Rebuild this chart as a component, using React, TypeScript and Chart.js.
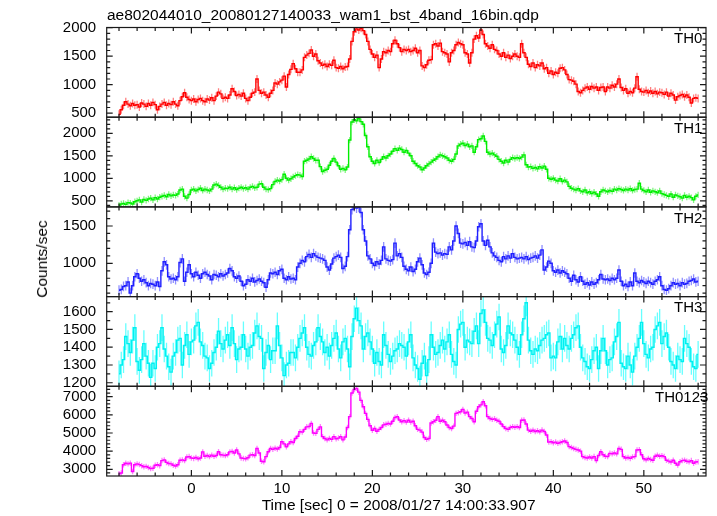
import React, { useEffect, useRef } from 'react';
import { Chart, registerables } from 'chart.js';

Chart.register(...registerables);

const FONT = "'Liberation Sans', Arial, Helvetica, sans-serif";
const TITLE = 'ae802044010_20080127140033_wam1_bst_4band_16bin.qdp';
const X_TITLE = 'Time [sec] 0 = 2008/01/27 14:00:33.907';
const Y_TITLE = 'Counts/sec';

// time grid of the light curve (bin centres)
const T_START = -8;
const T_BIN = 0.25;
const X_RANGE = [-9.36, 56.87];
const X_MAJOR = [0, 10, 20, 30, 40, 50];
const X_MINOR_STEP = 2;

const PANEL_NAMES = ['TH0', 'TH1', 'TH2', 'TH3', 'TH0123'];
const PANEL_COLORS = ['#ff0000', '#00ee00', '#1f1fff', '#00f0f0', '#ff00ff'];
const PANEL_BAR_COLORS = [
  'rgba(255,0,0,0.5)',
  'rgba(0,238,0,0.5)',
  'rgba(31,31,255,0.5)',
  'rgba(0,255,255,0.6)',
  'rgba(255,0,255,0.5)',
];
const PANEL_MIN = [430, 365, 554, 1180, 2631];
const PANEL_MAX = [2004, 2358, 1756, 1685, 7573];
const PANEL_MAJOR = [
  [500, 1000, 1500, 2000],
  [500, 1000, 1500, 2000],
  [1000, 1500],
  [1200, 1300, 1400, 1500, 1600],
  [3000, 4000, 5000, 6000, 7000],
];
const PANEL_MINOR = [100, 100, 100, 50, 200];
const PANEL_ERR = [70, 70, 65, 75, 150];
const PANEL_LABEL_LEFT = [674, 674, 674, 674, 655];

const TH0 = [
  480, 560, 640, 700, 660, 630, 670, 640,
  650, 610, 680, 660, 620, 670, 640, 690,
  650, 560, 620, 660, 690, 640, 670, 650,
  700, 660, 630, 720, 790, 860, 780, 740,
  720, 750, 700, 740, 760, 720, 700, 750,
  730, 770, 720, 800, 870, 840, 760, 780,
  760, 820, 930, 880, 810, 830, 800, 850,
  760, 720, 780, 850, 870, 1100, 900, 850,
  870, 820, 780, 850, 900, 1030, 1010, 1050,
  1080, 1150, 960, 1180, 1270, 1370, 1280, 1220,
  1220, 1260, 1480, 1520, 1550, 1610, 1500, 1540,
  1420, 1380, 1340, 1360, 1320, 1360, 1340, 1430,
  1300, 1290, 1320, 1280, 1310, 1320, 1450, 1760,
  1930, 1980, 1960, 1990, 1950, 1880, 1760, 1620,
  1540, 1480, 1520, 1300, 1450, 1580, 1560, 1600,
  1580, 1720, 1780, 1720, 1650, 1580, 1620, 1600,
  1620, 1580, 1600, 1640, 1560, 1600, 1330, 1300,
  1350, 1430, 1440, 1700, 1720, 1680, 1730, 1580,
  1560, 1540, 1400, 1560, 1600, 1700, 1740, 1720,
  1700, 1560, 1540, 1380, 1560, 1800, 1860, 1820,
  1960, 1880, 1720, 1680, 1640, 1700, 1620, 1600,
  1540, 1500, 1560, 1480, 1520, 1460, 1500, 1540,
  1500, 1480, 1720, 1560, 1480, 1360, 1320, 1380,
  1300, 1350, 1330, 1380, 1280, 1300, 1200, 1240,
  1180, 1220, 1200, 1290, 1300, 1260, 1180, 1090,
  1080, 1060, 1010, 880, 860, 900, 940, 960,
  920, 970, 940, 960, 900, 950, 960, 880,
  960, 940, 990, 960, 1010, 1100, 950, 900,
  930, 850, 880, 860, 940, 1140, 920, 880,
  870, 900, 860, 890, 850, 880, 840, 870,
  860, 830, 870, 800, 850, 820, 730, 790,
  810, 830, 790, 820, 780, 680, 760, 770,
  760,
];

const TH1 = [
  400, 430, 440, 420, 460, 450, 430, 480,
  500, 520, 470, 530, 510, 540, 560, 520,
  570, 540, 580, 600, 620, 590, 640, 610,
  630, 620, 650, 740, 760, 600, 560, 640,
  740, 760, 720, 750, 780, 730, 760, 740,
  720, 760, 850, 870, 840, 800, 760, 780,
  770, 800, 760, 790, 750, 780, 800, 770,
  790, 760, 800, 820, 790, 800, 870, 880,
  800, 760, 750, 770, 860, 930, 960, 940,
  970, 1090, 1000, 960, 990, 1030, 1060, 1080,
  1070, 1040, 1380, 1400, 1430, 1480, 1440, 1400,
  1400, 1260, 1150, 1180, 1200, 1290, 1380, 1440,
  1360, 1280, 1200, 1220, 1190, 1250, 1850, 2250,
  2300, 2280, 2330, 2260, 2200, 1950, 1700, 1480,
  1380, 1330, 1400, 1350, 1420, 1480, 1450, 1500,
  1540, 1600, 1660, 1620, 1670, 1640, 1580, 1620,
  1560, 1500, 1380, 1330, 1280, 1250, 1190, 1230,
  1280, 1320, 1360, 1400, 1430, 1480, 1520, 1500,
  1480, 1450, 1400, 1380, 1420, 1540, 1720, 1760,
  1780, 1730, 1760, 1700, 1720, 1580, 1700, 1860,
  1880, 1940, 1820, 1580, 1540, 1560, 1520, 1490,
  1420, 1380, 1340, 1400, 1360, 1420, 1460, 1440,
  1460, 1440, 1470, 1520, 1300, 1250, 1260, 1220,
  1240, 1210, 1260, 1230, 1270, 1200, 1000, 980,
  1000, 960, 940, 990, 930, 960, 920, 820,
  780, 760, 740, 770, 720, 700, 740, 680,
  700, 660, 690, 650, 600, 700, 740, 720,
  700, 730, 710, 760, 740, 770, 750, 730,
  760, 740, 770, 730, 750, 760, 890, 760,
  730, 700, 740, 690, 720, 700, 680, 720,
  660, 640, 620, 600, 650, 580, 630, 610,
  590, 560, 620, 580, 600, 570, 520, 600,
  630,
];

const TH2 = [
  640, 650, 690, 700, 750, 600, 700, 820,
  860, 800, 760, 780, 740, 700, 730, 720,
  700, 750, 690, 900, 1020, 980, 820, 790,
  800, 780, 820, 1010, 1060, 760, 880, 980,
  860, 820, 880, 840, 800, 860, 880, 850,
  830, 780, 850, 840, 820, 860, 830, 850,
  870, 930, 900, 820, 800, 830, 760, 700,
  720, 780, 760, 800, 750, 770, 790, 760,
  740, 680, 780, 870, 860, 880, 850, 900,
  920, 800, 780, 820, 790, 800, 780, 950,
  1000, 1040, 1020, 1090, 1120, 1080, 1130, 1100,
  1080, 1070, 1060, 1040, 950, 910, 990, 1070,
  1090, 1110, 1080, 930, 960, 1090, 1450, 1720,
  1760, 1740, 1750, 1680, 1450, 1300, 1100, 1060,
  1000, 970, 1020, 990, 1040, 1220, 1060, 1040,
  1030, 1050, 1270, 1100, 1130, 1080, 960, 920,
  900, 950, 890, 920, 1020, 1070, 980, 870,
  850, 880, 1000, 1270, 1150, 1130, 1140, 1110,
  1130, 1120, 1220, 1180, 1300, 1500, 1400, 1270,
  1260, 1280, 1240, 1290, 1220, 1210, 1300, 1490,
  1530, 1300, 1240, 1310, 1220, 1140, 1100, 1080,
  1040, 1020, 1090, 1060, 1100, 1070, 1130, 1080,
  1060, 1070, 1080, 1060, 1090, 1050, 1070, 1080,
  1100, 1070, 1110, 1180, 910, 950, 1030, 1000,
  900, 880, 910, 870, 900, 880, 860, 800,
  760, 840, 780, 750, 820, 760, 720, 740,
  710, 750, 720, 740, 780, 850, 790, 780,
  790, 770, 800, 780, 800, 910, 760, 700,
  720, 690, 750, 700, 870, 760, 740, 770,
  750, 730, 760, 740, 720, 760, 780, 820,
  700, 650, 640, 660, 700, 740, 720, 730,
  700, 740, 720, 730, 760, 770, 790, 750,
  760,
];

const TH3 = [
  1250, 1300, 1330, 1460, 1420, 1370, 1440, 1510,
  1320, 1270, 1330, 1420, 1350, 1310, 1230, 1310,
  1280, 1400, 1420, 1510, 1390, 1350, 1290, 1260,
  1350, 1370, 1440, 1450, 1300, 1410, 1470, 1360,
  1430, 1440, 1520, 1540, 1430, 1410, 1350, 1340,
  1280, 1310, 1370, 1400, 1490, 1420, 1390, 1440,
  1470, 1410, 1510, 1420, 1330, 1390, 1400, 1470,
  1390, 1350, 1400, 1410, 1480, 1520, 1460, 1450,
  1280, 1370, 1410, 1330, 1380, 1380, 1520, 1410,
  1340, 1240, 1300, 1310, 1370, 1370, 1340, 1400,
  1450, 1480, 1510, 1400, 1360, 1350, 1410, 1430,
  1510, 1460, 1430, 1370, 1400, 1350, 1410, 1450,
  1480, 1390, 1340, 1430, 1450, 1390, 1290, 1460,
  1560, 1620, 1550, 1520, 1390, 1460, 1480, 1430,
  1390, 1310, 1370, 1320, 1300, 1470, 1410, 1360,
  1320, 1350, 1380, 1390, 1420, 1410, 1400, 1350,
  1430, 1470, 1340, 1300, 1280, 1220, 1310, 1350,
  1240, 1330, 1470, 1400, 1360, 1370, 1410, 1440,
  1390, 1430, 1470, 1360, 1320, 1300, 1500, 1530,
  1540, 1400, 1440, 1430, 1420, 1490, 1520, 1420,
  1590, 1610, 1540, 1450, 1440, 1410, 1470, 1530,
  1570, 1390, 1370, 1410, 1520, 1480, 1470, 1440,
  1400, 1360, 1470, 1560, 1650, 1440, 1380, 1360,
  1390, 1380, 1410, 1440, 1450, 1470, 1480, 1340,
  1350, 1340, 1430, 1460, 1390, 1450, 1410, 1390,
  1450, 1470, 1510, 1520, 1400, 1340, 1320, 1290,
  1280, 1330, 1380, 1400, 1280, 1380, 1450, 1380,
  1300, 1330, 1340, 1430, 1460, 1540, 1310, 1290,
  1280, 1350, 1300, 1260, 1350, 1400, 1450, 1540,
  1420, 1360, 1340, 1390, 1400, 1500, 1520, 1540,
  1420, 1460, 1480, 1400, 1320, 1300, 1280, 1350,
  1330, 1320, 1450, 1420, 1400, 1320, 1290, 1280,
  1360,
];

const TH0123 = [
  2750, 2800, 3250, 3330, 3300, 3340, 2880, 3250,
  3300, 3260, 3200, 3140, 3160, 3100, 3040, 3060,
  3220, 3250, 3200, 3480, 3520, 3380, 3320, 3300,
  3220, 3180, 3250, 3500, 3520, 3480, 3680, 3700,
  3620, 3600, 3650, 3580, 3620, 3960, 3720, 3760,
  3700, 3780, 3720, 3760, 3970, 3800, 3780, 3760,
  3800, 3960, 3980, 3900, 4060, 3850, 3620, 3600,
  3580, 3640, 3780, 3800, 3760, 4150, 3900, 3440,
  3420, 3700, 3970, 4150, 4100, 4160, 4120, 4200,
  4520, 4400, 4240, 4400, 4520, 4480, 4700, 4820,
  5070, 5050, 5200, 5340, 5360, 5530, 5000, 4980,
  5200, 5340, 4800, 4700, 4620, 4700, 4650, 4800,
  4680, 4720, 4800, 4620, 4780, 5300, 5900, 7200,
  7400, 7460, 7250, 6800, 6450, 6080, 5750, 5400,
  5150, 5250, 5100, 5200, 5300, 5450, 5480, 5530,
  5500, 5650, 5850, 5900, 5720, 5620, 5680, 5600,
  5700, 5600, 5650, 5400, 5200, 5160, 5050, 4750,
  4650, 4700, 5550, 5620, 5700, 5900, 5650, 5700,
  5620, 5440, 5300, 5250, 5380, 6080, 6120, 6170,
  6300, 6100, 6150, 5900, 5800, 5620, 6200, 6450,
  6550, 6720, 6500, 5900, 5800, 5750, 5780, 5700,
  5650, 5500, 5350, 5250, 5200, 5300, 5350, 5320,
  5350, 5300, 5700, 5720, 5500, 5160, 5100, 5150,
  5080, 5120, 5070, 5160, 5080, 4890, 4500, 4520,
  4460, 4500, 4430, 4480, 4520, 4560, 4480, 4250,
  4200, 4150, 4100, 4060, 4000, 3700, 3650, 3620,
  3680, 3620, 3700, 3480, 3760, 3970, 3800, 3720,
  3700, 3880, 3860, 3900, 3850, 4150, 4100, 3700,
  3620, 3650, 3600, 3680, 3700, 4060, 4080, 3800,
  3580, 3520, 3600, 3540, 3500, 3720, 3780, 3720,
  3750, 3700, 3500, 3450, 3400, 3500, 3330, 3230,
  3420, 3480, 3500, 3440, 3420, 3480, 3330, 3400,
  3420,
];

const SERIES = [TH0, TH1, TH2, TH3, TH0123];

const FRAME_COLOR = '#1a1a1a';
const MAJOR_LEN = 6;
const MINOR_LEN = 3.5;

const qdpPlugin = {
  id: 'qdpPanels',
  beforeDatasetDraw(chart: any, args: any) {
    const meta = args.meta;
    const ys = meta.yScale;
    const area = chart.chartArea;
    const ctx = chart.ctx;
    ctx.save();
    ctx.beginPath();
    ctx.rect(area.left, ys.top, area.right - area.left, ys.bottom - ys.top);
    ctx.clip();
    const ds = chart.data.datasets[args.index];
    ctx.strokeStyle = ds.barColor;
    ctx.lineWidth = 1.3;
    ctx.beginPath();
    meta.data.forEach((pt: any, j: number) => {
      const v = ds.data[j].y;
      ctx.moveTo(pt.x, ys.getPixelForValue(v + ds.err));
      ctx.lineTo(pt.x, ys.getPixelForValue(v - ds.err));
    });
    ctx.stroke();
  },
  afterDatasetDraw(chart: any) {
    chart.ctx.restore();
  },
  afterDatasetsDraw(chart: any) {
    const ctx = chart.ctx;
    const a = chart.chartArea;
    const xs = chart.scales.x;
    ctx.save();
    ctx.strokeStyle = FRAME_COLOR;
    ctx.lineWidth = 1.2;
    PANEL_NAMES.forEach((_, i) => {
      const ys = chart.scales['y' + i];
      const top = ys.top;
      const bot = ys.bottom;
      ctx.strokeRect(a.left, top, a.right - a.left, bot - top);
      ctx.beginPath();
      const k0 = Math.ceil(X_RANGE[0] / X_MINOR_STEP);
      const k1 = Math.floor(X_RANGE[1] / X_MINOR_STEP);
      for (let k = k0; k <= k1; k++) {
        const v = k * X_MINOR_STEP;
        const len = X_MAJOR.includes(v) ? MAJOR_LEN : MINOR_LEN;
        const px = xs.getPixelForValue(v);
        ctx.moveTo(px, top);
        ctx.lineTo(px, top + len);
        ctx.moveTo(px, bot);
        ctx.lineTo(px, bot - len);
      }
      const step = PANEL_MINOR[i];
      const m0 = Math.ceil(PANEL_MIN[i] / step);
      const m1 = Math.floor(PANEL_MAX[i] / step);
      for (let m = m0; m <= m1; m++) {
        const v = m * step;
        const len = PANEL_MAJOR[i].includes(v) ? MAJOR_LEN : MINOR_LEN;
        const py = ys.getPixelForValue(v);
        ctx.moveTo(a.left, py);
        ctx.lineTo(a.left + len, py);
        ctx.moveTo(a.right, py);
        ctx.lineTo(a.right - len, py);
      }
      ctx.stroke();
    });
    ctx.restore();
  },
};

export default function App() {
  const ref = useRef<HTMLCanvasElement>(null);

  useEffect(() => {
    const canvas = ref.current;
    if (!canvas) return;

    const datasets = SERIES.map((vals, i) => ({
      label: PANEL_NAMES[i],
      data: vals.map((v, j) => ({ x: T_START + j * T_BIN, y: v })),
      xAxisID: 'x',
      yAxisID: 'y' + i,
      borderColor: PANEL_COLORS[i],
      backgroundColor: PANEL_COLORS[i],
      borderWidth: 1.4,
      pointRadius: 0,
      stepped: 'middle',
      fill: false,
      barColor: PANEL_BAR_COLORS[i],
      err: PANEL_ERR[i],
    }));

    const tickFont = { family: FONT, size: 15 };
    const plainLabel = (v: any) => String(v);
    const scales: any = {
      x: {
        type: 'linear',
        position: 'bottom',
        min: X_RANGE[0],
        max: X_RANGE[1],
        grid: { display: false, drawTicks: false },
        border: { display: false },
        ticks: { padding: 4, color: '#000', font: tickFont, autoSkip: false, maxRotation: 0, callback: plainLabel },
        afterBuildTicks: (s: any) => {
          s.ticks = X_MAJOR.map((v) => ({ value: v }));
        },
        afterFit: (s: any) => {
          s.height = 40;
        },
      },
    };
    PANEL_NAMES.forEach((_, i) => {
      scales['y' + i] = {
        type: 'linear',
        position: 'left',
        stack: 'panels',
        stackWeight: 1,
        weight: PANEL_NAMES.length - i,
        min: PANEL_MIN[i],
        max: PANEL_MAX[i],
        grid: { display: false, drawTicks: false },
        border: { display: false },
        ticks: { padding: 10.5, color: '#000', font: tickFont, autoSkip: false, callback: plainLabel },
        afterBuildTicks: (s: any) => {
          s.ticks = PANEL_MAJOR[i].map((v) => ({ value: v }));
        },
        afterFit: (s: any) => {
          s.width = 106.7;
        },
      };
    });

    const chart = new Chart(canvas, {
      type: 'line',
      data: { datasets } as any,
      options: {
        animation: false,
        responsive: false,
        maintainAspectRatio: false,
        events: [],
        layout: { padding: { top: 27.5, right: 11, left: 0, bottom: 0 } },
        plugins: { legend: { display: false }, tooltip: { enabled: false }, title: { display: false } },
        scales,
      } as any,
      plugins: [qdpPlugin as any],
    });
    return () => chart.destroy();
  }, []);

  const textBase: React.CSSProperties = {
    position: 'absolute',
    fontFamily: FONT,
    color: '#000',
    whiteSpace: 'nowrap',
    lineHeight: '18px',
  };
  const panelTop = (i: number) => 27.5 + i * 89.7;

  return (
    <div style={{ position: 'fixed', left: 0, top: 0, width: 717, height: 516, background: '#fff', overflow: 'hidden' }}>
      <canvas ref={ref} width={717} height={516} style={{ position: 'absolute', left: 0, top: 0, width: 717, height: 516 }} />
      <div style={{ ...textBase, left: 107, top: 5.6, fontSize: 15.5 }}>{TITLE}</div>
      {PANEL_NAMES.map((n, i) => (
        <div key={n} style={{ ...textBase, left: PANEL_LABEL_LEFT[i], top: panelTop(i) + 1.8, fontSize: 15 }}>{n}</div>
      ))}
      <div style={{ ...textBase, left: 261.7, top: 496.1, fontSize: 15.5 }}>{X_TITLE}</div>
      <div
        style={{
          ...textBase,
          left: 42,
          top: 259,
          fontSize: 15.5,
          transform: 'translate(-50%, -50%) rotate(-90deg)',
        }}
      >
        {Y_TITLE}
      </div>
    </div>
  );
}
